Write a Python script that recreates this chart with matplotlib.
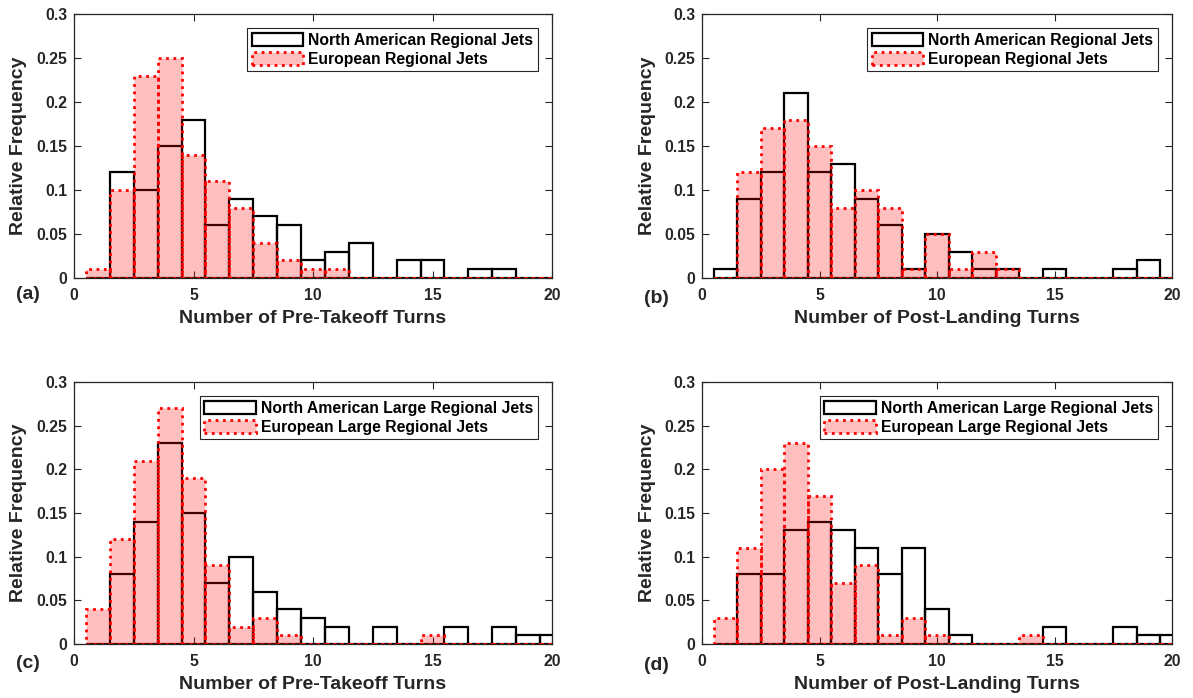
import numpy as np
import matplotlib
matplotlib.use("Agg")
import matplotlib.pyplot as plt
from matplotlib.patches import Patch

plt.rcParams["font.family"] = ["Liberation Sans", "DejaVu Sans"]
plt.rcParams["font.weight"] = "bold"

# bin centres (number of turns)
bins = list(range(1, 21))

# (a) pre-takeoff turns, regional jets
na_a = [0, 0.12, 0.10, 0.15, 0.18, 0.06, 0.09, 0.07, 0.06, 0.02,
        0.03, 0.04, 0, 0.02, 0.02, 0, 0.01, 0.01, 0, 0]
eu_a = [0.01, 0.10, 0.23, 0.25, 0.14, 0.11, 0.08, 0.04, 0.02, 0.01,
        0.01, 0, 0, 0, 0, 0, 0, 0, 0, 0]

# (b) post-landing turns, regional jets
na_b = [0.01, 0.09, 0.12, 0.21, 0.12, 0.13, 0.09, 0.06, 0.01, 0.05,
        0.03, 0.01, 0.01, 0, 0.01, 0, 0, 0.01, 0.02, 0]
eu_b = [0, 0.12, 0.17, 0.18, 0.15, 0.08, 0.10, 0.08, 0.01, 0.05,
        0.01, 0.03, 0.01, 0, 0, 0, 0, 0, 0, 0]

# (c) pre-takeoff turns, large regional jets
na_c = [0, 0.08, 0.14, 0.23, 0.15, 0.07, 0.10, 0.06, 0.04, 0.03,
        0.02, 0, 0.02, 0, 0, 0.02, 0, 0.02, 0.01, 0.01]
eu_c = [0.04, 0.12, 0.21, 0.27, 0.19, 0.09, 0.02, 0.03, 0.01, 0,
        0, 0, 0, 0, 0.01, 0, 0, 0, 0, 0]

# (d) post-landing turns, large regional jets
na_d = [0, 0.08, 0.08, 0.13, 0.14, 0.13, 0.11, 0.08, 0.11, 0.04,
        0.01, 0, 0, 0, 0.02, 0, 0, 0.02, 0.01, 0.01]
eu_d = [0.03, 0.11, 0.20, 0.23, 0.17, 0.07, 0.09, 0.01, 0.03, 0.01,
        0, 0, 0, 0.01, 0, 0, 0, 0, 0, 0]

yticks = [0, 0.05, 0.1, 0.15, 0.2, 0.25, 0.3]
ytick_labels = ["0", "0.05", "0.1", "0.15", "0.2", "0.25", "0.3"]
xticks = [0, 5, 10, 15, 20]

panels = [
    ("(a)", na_a, eu_a, "Number of Pre-Takeoff Turns",
     "North American Regional Jets", "European Regional Jets"),
    ("(b)", na_b, eu_b, "Number of Post-Landing Turns",
     "North American Regional Jets", "European Regional Jets"),
    ("(c)", na_c, eu_c, "Number of Pre-Takeoff Turns",
     "North American Large Regional Jets", "European Large Regional Jets"),
    ("(d)", na_d, eu_d, "Number of Post-Landing Turns",
     "North American Large Regional Jets", "European Large Regional Jets"),
]

W, H = 1193, 698
# axes boxes in pixels: left, top, right, bottom
boxes = [(74, 14, 552, 278), (702, 14, 1172, 278),
         (74, 382, 552, 644), (702, 382, 1172, 644)]
tag_pos = [(28, 295), (656, 299), (28, 664), (656, 665)]

txt = "#262626"
pink = (1, 0, 0, 0.25)

fig = plt.figure(figsize=(W / 100, H / 100), dpi=100)

for (tag, na, eu, xlab, lab_na, lab_eu), (l, t, r, b), (tx, ty) in zip(panels, boxes, tag_pos):
    ax = fig.add_axes([l / W, 1 - b / H, (r - l) / W, (b - t) / H])

    ax.bar(bins, na, width=1, facecolor="none", edgecolor="black",
           linewidth=1.6, zorder=2)
    ax.bar(bins, eu, width=1, facecolor=pink, edgecolor="red",
           linewidth=2, linestyle=":", zorder=3)

    ax.set_xlim(0, 20)
    ax.set_ylim(0, 0.3)
    ax.set_xticks(xticks)
    ax.set_yticks(yticks)
    ax.set_yticklabels(ytick_labels)
    ax.tick_params(direction="in", top=True, right=True, length=5,
                   width=0.8, labelsize=11.3, colors=txt, labelcolor=txt)
    ax.tick_params(axis="x", pad=7)
    ax.tick_params(axis="y", pad=5)
    for s in ax.spines.values():
        s.set_color(txt)
        s.set_linewidth(0.9)

    ax.set_xlabel(xlab, fontsize=14, fontweight="bold", color=txt)
    ax.xaxis.set_label_coords(0.5, -0.122)
    ax.set_ylabel("Relative Frequency", fontsize=14, fontweight="bold", color=txt)
    ax.yaxis.set_label_coords(-0.098, 0.5)

    handles = [
        Patch(facecolor="white", edgecolor="black", linewidth=1.6),
        Patch(facecolor=pink, edgecolor="red", linewidth=2, linestyle=":"),
    ]
    leg = ax.legend(handles, [lab_na, lab_eu], loc="upper right",
                    fontsize=11.3, frameon=True, fancybox=False,
                    handlelength=3.3, handleheight=0.9, handletextpad=0.3,
                    labelspacing=0.25, borderpad=0.3, borderaxespad=0.9,
                    edgecolor=txt, framealpha=1)
    leg.get_frame().set_linewidth(0.8)
    for tt in leg.get_texts():
        tt.set_color("black")

    fig.text(tx / W, 1 - ty / H, tag, fontsize=14, fontweight="bold",
             color=txt, ha="center", va="center")

fig.savefig("out.png", dpi=100)
